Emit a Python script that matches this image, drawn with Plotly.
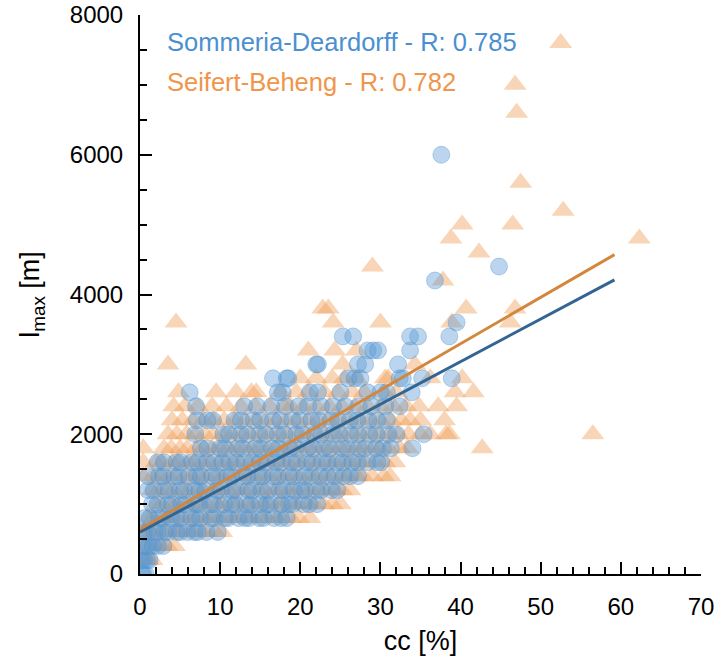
import plotly.graph_objects as go

# ---------------- data ----------------
# Sommeria-Deardorff (blue circles): lmax levels and the cc values on each level
sd_levels = [0, 200, 400, 600, 800, 1000, 1200, 1400, 1600, 1800, 2000, 2200, 2400,
             2600, 2800, 3000, 3200, 3400, 3600, 4200, 4400, 6000]
sd_cc_rows = [
    [0.2, 0.4, 0.7],
    [0.2, 0.5, 0.9, 1.2],
    [0.3, 0.7, 1.1, 1.6, 2.2, 2.9],
    [0.5, 0.9, 1.8, 2.2, 3.1, 3.5, 4.6, 5.0, 5.9, 6.8, 7.2, 8.3, 9.7],
    [0.6, 1.2, 2.4, 2.8, 3.9, 4.6, 5.1, 6.4, 7.0, 7.5, 8.9, 9.3, 10.6, 11.0, 12.3, 13.1,
     13.6, 14.9, 15.4, 16.7, 17.6, 18.3],
    [1.5, 2.2, 3.5, 4.0, 5.2, 5.7, 7.0, 7.4, 8.8, 9.2, 10.5, 11.4, 11.9, 13.3, 13.8, 15.0,
     15.9, 16.3, 17.7, 18.6, 19.0, 20.4, 21.1, 22.1],
    [1.0, 1.7, 3.1, 3.6, 5.0, 5.5, 6.9, 7.4, 8.2, 9.6, 10.1, 11.6, 12.0, 13.5, 14.0, 15.2,
     16.0, 17.4, 17.9, 19.2, 20.1, 20.6, 22.0, 22.6, 23.9, 24.6],
    [1.0, 2.4, 2.9, 4.3, 4.8, 6.1, 7.1, 7.6, 9.0, 9.6, 10.9, 11.4, 12.9, 13.4, 14.8, 15.3,
     16.6, 17.2, 18.6, 19.2, 20.5, 21.3, 22.4, 23.4, 24.3, 25.4, 26.2, 27.2],
    [2.2, 3.0, 4.6, 5.1, 6.5, 7.2, 8.4, 9.3, 10.3, 11.2, 12.0, 13.1, 14.0, 15.0, 15.8, 17.0,
     17.7, 18.9, 19.6, 20.8, 21.5, 22.7, 23.4, 24.6, 25.3, 26.5, 27.2, 28.4, 29.6, 30.1],
    [7.6, 8.4, 10.0, 10.6, 12.2, 12.8, 14.4, 15.0, 16.5, 17.2, 18.7, 19.4, 20.9, 21.6, 23.0,
     23.7, 25.2, 25.9, 27.3, 28.1, 29.5, 30.3, 31.3, 34.0],
    [6.9, 10.4, 11.1, 12.6, 13.4, 14.9, 15.7, 17.2, 18.0, 19.5, 20.3, 21.8, 22.6, 24.1, 24.9,
     26.3, 27.2, 28.6, 29.5, 31.0, 32.0, 35.4],
    [7.1, 8.4, 9.1, 11.8, 12.6, 14.2, 15.0, 16.6, 17.5, 19.0, 19.9, 21.4, 22.3, 23.8, 24.7,
     26.2, 27.1, 28.5, 29.6, 30.8],
    [7.0, 13.0, 14.6, 16.4, 18.1, 19.8, 21.0, 22.6, 24.1, 25.6, 27.3, 28.9, 30.6, 32.4],
    [6.2, 17.2, 17.8, 21.2, 22.2, 25.0, 28.4, 30.0, 30.8, 33.9],
    [16.6, 18.3, 18.5, 26.0, 26.8, 27.5, 32.4, 32.8, 35.2, 38.9],
    [22.0, 22.2, 27.2, 28.1, 32.2],
    [28.4, 29.1, 29.7, 33.7],
    [25.3, 26.6, 33.7, 34.7, 38.6],
    [39.5],
    [36.8],
    [44.8],
    [37.6],
]

# Seifert-Beheng (orange triangles)
sb_levels = [200, 400, 600, 800, 1000, 1200, 1400, 1600, 1800, 2000, 2200, 2400, 2600,
             2800, 3000, 3200, 3600, 3800, 4200, 4400, 4600, 4800, 5000, 5200, 5600,
             6600, 7000, 7600]
sb_cc_rows = [
    [0.5, 1.0, 1.5],
    [0.6, 1.3, 2.0, 2.7, 3.4, 4.3],
    [0.5, 1.4, 1.8, 2.9, 3.4, 4.5, 4.9, 6.0, 6.6, 7.7, 8.3, 9.4, 10.2],
    [1.0, 1.6, 2.8, 3.4, 4.5, 5.2, 6.3, 6.9, 8.1, 8.7, 9.8, 10.5, 11.6, 12.3, 13.4, 14.1,
     15.2, 15.9, 17.0, 17.7, 18.8, 19.8, 21.2],
    [2.0, 2.7, 3.9, 4.6, 5.8, 6.5, 7.7, 8.4, 9.6, 10.3, 11.5, 12.2, 13.4, 14.1, 15.3, 16.0,
     17.2, 17.9, 19.1, 19.8, 21.0, 21.7, 22.9, 24.0, 25.0],
    [1.5, 2.3, 3.4, 4.2, 5.3, 6.1, 7.2, 8.0, 9.1, 9.9, 11.0, 11.8, 12.9, 13.7, 14.8, 15.6,
     16.7, 17.5, 18.6, 19.4, 20.5, 21.3, 22.4, 23.2, 24.3, 25.2, 26.2],
    [0.4, 1.6, 2.5, 3.6, 4.4, 5.6, 6.4, 7.5, 8.3, 9.5, 10.3, 11.4, 12.2, 13.4, 14.2, 15.3,
     16.1, 17.3, 18.1, 19.2, 20.0, 21.2, 22.0, 23.1, 23.9, 25.1, 25.9, 27.0, 27.8, 29.0,
     30.4, 31.2],
    [0.4, 2.0, 2.8, 4.0, 4.7, 5.9, 6.7, 7.8, 8.6, 9.8, 10.6, 11.7, 12.5, 13.7, 14.5, 15.6,
     16.4, 17.6, 18.4, 19.5, 20.3, 21.5, 22.3, 23.4, 24.2, 25.4, 26.2, 27.3, 28.1, 29.3,
     30.6, 31.8],
    [0.4, 3.0, 3.9, 5.0, 5.9, 7.0, 7.9, 9.0, 9.9, 11.0, 11.9, 13.0, 13.9, 15.0, 15.9, 17.0,
     17.9, 19.0, 19.9, 21.0, 21.9, 23.0, 23.9, 25.0, 25.9, 27.0, 27.9, 29.0, 29.9, 31.0,
     32.4, 33.4, 42.7],
    [3.5, 4.6, 5.8, 6.9, 8.1, 9.2, 10.4, 11.5, 12.7, 13.8, 15.0, 16.1, 17.3, 18.4, 19.6,
     20.7, 21.9, 23.0, 24.2, 25.3, 26.5, 27.6, 28.8, 29.9, 31.1, 32.2, 33.5, 35.0, 36.2,
     38.2, 38.6, 56.5],
    [4.0, 5.3, 6.6, 7.9, 9.2, 10.5, 11.8, 13.1, 14.4, 15.7, 17.0, 18.3, 19.6, 20.9, 22.2,
     23.5, 24.8, 26.1, 27.4, 28.7, 30.0, 31.3, 32.6, 33.7, 35.0, 38.0],
    [4.2, 5.6, 7.2, 9.0, 10.8, 12.6, 14.4, 16.2, 18.0, 18.8, 20.4, 22.0, 23.6, 25.2, 26.8,
     28.4, 30.0, 31.6, 33.2, 34.8, 37.2, 39.5],
    [4.8, 9.5, 12.0, 13.9, 14.5, 17.5, 19.5, 21.0, 23.0, 24.7, 26.5, 28.0, 30.5, 32.0, 39.3,
     41.6],
    [20.0, 22.0, 24.0, 25.5, 27.0, 30.6, 31.0, 36.2, 40.2],
    [3.5, 13.2, 25.3, 34.3],
    [21.0, 24.3, 27.0],
    [4.5, 24.1, 30.0, 38.9, 46.2],
    [22.8, 23.5, 40.7, 46.8],
    [37.8],
    [29.0],
    [42.3],
    [38.8, 62.3],
    [40.2, 46.5],
    [52.8],
    [47.5],
    [47.0],
    [46.8],
    [52.5],
]

# regression lines (end points)
sd_fit_cc = [0.0, 59.2]
sd_fit_lmax = [600, 4210]
sb_fit_cc = [0.0, 59.2]
sb_fit_lmax = [640, 4570]

sd_label = "Sommeria-Deardorff - R: 0.785"
sb_label = "Seifert-Beheng - R: 0.782"

x_ticks = [0, 10, 20, 30, 40, 50, 60, 70]
y_ticks = [0, 2000, 4000, 6000, 8000]


def expand(levels, rows):
    xs, ys = [], []
    for lv, row in zip(levels, rows):
        for v in row:
            xs.append(v)
            ys.append(lv)
    return xs, ys


sd_x, sd_y = expand(sd_levels, sd_cc_rows)
sb_x, sb_y = expand(sb_levels, sb_cc_rows)

FONT = "Liberation Sans, Arial, Helvetica, sans-serif"
BLUE = "#4a90d0"
ORANGE = "#f0954a"

fig = go.Figure()
fig.add_trace(go.Scatter(
    x=sb_x, y=sb_y, mode="markers",
    marker=dict(symbol="triangle-up", size=20, color="rgba(240,149,74,0.40)",
                line=dict(width=0)),
    showlegend=False, hoverinfo="skip"))
fig.add_trace(go.Scatter(
    x=sd_x, y=sd_y, mode="markers",
    marker=dict(symbol="circle", size=17, color="rgba(91,155,213,0.42)",
                line=dict(width=1, color="rgba(74,140,200,0.35)")),
    showlegend=False, hoverinfo="skip"))
fig.add_trace(go.Scatter(
    x=sb_fit_cc, y=sb_fit_lmax, mode="lines",
    line=dict(color="#d4873c", width=3), showlegend=False, hoverinfo="skip"))
fig.add_trace(go.Scatter(
    x=sd_fit_cc, y=sd_fit_lmax, mode="lines",
    line=dict(color="#336592", width=3), showlegend=False, hoverinfo="skip"))

axis_common = dict(
    showline=True, linecolor="black", linewidth=2,
    ticks="inside", tickcolor="black", tickwidth=2, ticklen=12,
    showgrid=False, zeroline=False, mirror=False, automargin=False,
    tickfont=dict(family=FONT, size=24, color="black"),
)

fig.update_xaxes(
    range=[0, 70], tickvals=x_ticks, ticktext=[str(v) for v in x_ticks],
    minor=dict(ticks="inside", ticklen=7, tickwidth=1.5, tickcolor="black", dtick=2,
               showgrid=False),
    ticklabelstandoff=10,
    title=dict(text="cc [%]", font=dict(family=FONT, size=27, color="black"), standoff=12),
    **axis_common)
fig.update_yaxes(
    range=[0, 8000], tickvals=y_ticks, ticktext=[str(v) for v in y_ticks],
    minor=dict(ticks="inside", ticklen=7, tickwidth=1.5, tickcolor="black", dtick=500,
               showgrid=False),
    ticklabelstandoff=10,
    title=dict(text="l<sub>max</sub> [m]", font=dict(family=FONT, size=27, color="black"),
               standoff=22),
    **axis_common)

fig.add_annotation(x=0.044, y=0.951, xref="paper", yref="paper", xanchor="left",
                   yanchor="middle", text=sd_label, showarrow=False,
                   font=dict(family=FONT, size=25.5, color=BLUE))
fig.add_annotation(x=0.044, y=0.880, xref="paper", yref="paper", xanchor="left",
                   yanchor="middle", text=sb_label, showarrow=False,
                   font=dict(family=FONT, size=25.5, color=ORANGE))

fig.update_layout(
    width=718, height=668,
    margin=dict(l=140, r=17, t=15, b=94),
    plot_bgcolor="white", paper_bgcolor="white",
)

fig.write_html("out.html")
